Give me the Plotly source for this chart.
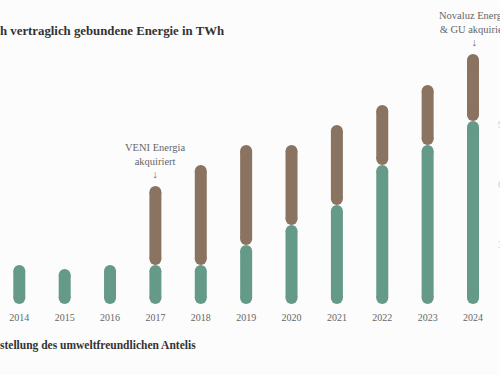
import plotly.graph_objects as go

years = [2014, 2015, 2016, 2017, 2018, 2019, 2020, 2021, 2022, 2023, 2024]
year_labels = [str(y) for y in years]
green_twh = [1.95, 1.75, 1.95, 1.95, 1.95, 2.95, 3.95, 4.95, 6.95, 7.95, 9.15]
brown_twh = [0, 0, 0, 3.95, 5.0, 5.0, 4.0, 4.0, 3.0, 3.0, 3.35]
right_ticks = [3, 6, 9]

GREEN = "#659a89"
BROWN = "#8a7361"
BG = "#fcfcfc"
FONT = "Liberation Serif"

# layout geometry
PLOT_H_PX = 304          # plot area height in px (t=0, b=71)
Y_MAX = 15.2
PX_PER_UNIT = PLOT_H_PX / Y_MAX
CAP_PX = 12              # capsule thickness in px
R = (CAP_PX / 2) / PX_PER_UNIT   # cap radius in data units

fig = go.Figure()


def capsules(xs, lows, highs, color):
    px, py = [], []
    for x, lo, hi in zip(xs, lows, highs):
        if hi - lo <= 2 * R:
            continue
        px += [x, x, None]
        py += [lo + R, hi - R, None]
    fig.add_trace(go.Scatter(
        x=px, y=py, mode="lines+markers", connectgaps=False,
        line=dict(color=color, width=CAP_PX),
        marker=dict(color=color, size=CAP_PX, line=dict(width=0)),
        showlegend=False, hoverinfo="skip",
    ))


zeros = [0] * len(years)
totals = [g + b for g, b in zip(green_twh, brown_twh)]
capsules(years, zeros, green_twh, GREEN)
capsules(years, green_twh, totals, BROWN)

ann_font = dict(family=FONT, size=10.5, color="#666666")
fig.add_annotation(x=2017, y=totals[years.index(2017)], xref="x", yref="y",
                   text="VENI Energia<br>akquiriert<br>↓", showarrow=False,
                   yanchor="bottom", yshift=4, font=ann_font)
fig.add_annotation(x=2024, y=totals[years.index(2024)], xref="x", yref="y",
                   text="Novaluz Energia<br>&amp; GU akquiriert<br>↓", showarrow=False,
                   yanchor="bottom", yshift=4, xshift=1, font=ann_font)

fig.add_annotation(x=-0.004, y=(PLOT_H_PX - 31) / PLOT_H_PX, xref="paper", yref="paper",
                   xanchor="left", yanchor="middle", showarrow=False,
                   text="<b>h vertraglich gebundene Energie in TWh</b>",
                   font=dict(family=FONT, size=12.8, color="#333333"))
fig.add_annotation(x=-0.004, y=(PLOT_H_PX - 345) / PLOT_H_PX, xref="paper", yref="paper",
                   xanchor="left", yanchor="middle", showarrow=False,
                   text="<b>stellung des umweltfreundlichen Antelis</b>",
                   font=dict(family=FONT, size=11.5, color="#333333"))

fig.update_layout(
    width=500, height=375,
    margin=dict(l=0, r=3, t=0, b=71, autoexpand=False),
    paper_bgcolor=BG, plot_bgcolor=BG,
    xaxis=dict(range=[2013.5746, 2024.529], tickvals=years, ticktext=year_labels,
               showgrid=False, zeroline=False, showline=False, automargin=False,
               ticks="outside", ticklen=4, tickcolor="rgba(0,0,0,0)",
               tickfont=dict(family=FONT, size=10, color="#666666")),
    yaxis=dict(range=[0, Y_MAX], side="right", tickvals=right_ticks,
               showgrid=False, zeroline=False, showline=False, automargin=False,
               tickfont=dict(family=FONT, size=10, color="#cccccc")),
)

fig.write_html("out.html", config={"displayModeBar": False},
               post_script="document.body.style.margin='0';")
